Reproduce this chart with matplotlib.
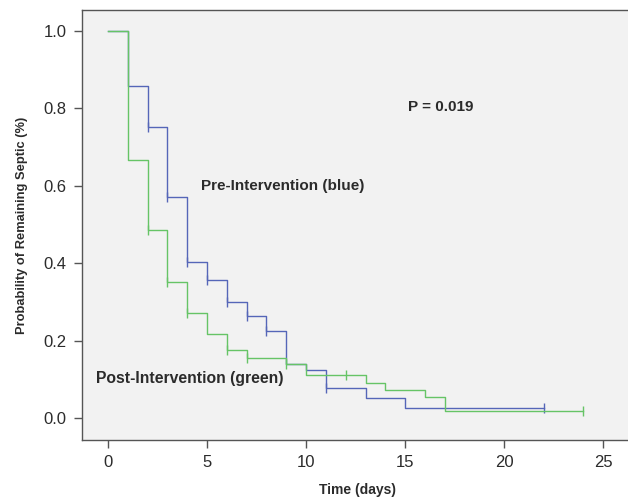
import numpy as np
import matplotlib
matplotlib.use("Agg")
from matplotlib import pyplot as plt

plt.rcParams['font.family'] = ['Liberation Sans', 'DejaVu Sans']

# Kaplan-Meier steps
pre_times = [0, 1, 2, 3, 4, 5, 6, 7, 8, 9, 10, 11, 13, 15, 22]
pre_surv = [1.0, 0.858, 0.752, 0.571, 0.403, 0.357, 0.300, 0.264, 0.225,
            0.140, 0.125, 0.077, 0.052, 0.026, 0.026]
pre_censor = [2, 3, 4, 5, 6, 7, 8, 11, 22]

post_times = [0, 1, 2, 3, 4, 5, 6, 7, 9, 10, 13, 14, 16, 17, 24]
post_surv = [1.0, 0.667, 0.485, 0.350, 0.270, 0.217, 0.176, 0.155, 0.140,
             0.110, 0.090, 0.072, 0.054, 0.018, 0.018]
post_censor = [2, 3, 4, 6, 7, 9, 12, 24]

x_ticks = [0, 5, 10, 15, 20, 25]
y_ticks = [0.0, 0.2, 0.4, 0.6, 0.8, 1.0]

BLUE = "#5566b8"
GREEN = "#66c466"
TXT = "#2b2b2b"
FRAME = "#555555"


def surv_at(times, surv, t):
    idx = np.searchsorted(times, t, side='right') - 1
    return np.asarray(surv)[idx]


fig = plt.figure(figsize=(6.28, 4.98), dpi=100)
W, H = 628.0, 498.0
ax = fig.add_axes([82 / W, 58 / H, 551 / W, 430 / H])
ax.set_facecolor("#f2f2f2")

for times, surv, cens, col in [(pre_times, pre_surv, pre_censor, BLUE),
                               (post_times, post_surv, post_censor, GREEN)]:
    ax.step(times, surv, where='post', color=col, linewidth=1.0)
    ax.plot(cens, surv_at(times, surv, cens), linestyle='none', marker='|',
            markersize=7, markeredgewidth=1.0, color=col)

ax.set_xlim(-1.31, 26.5)
ax.set_ylim(-0.057, 1.054)
ax.set_xticks(x_ticks)
ax.set_yticks(y_ticks)
ax.set_xticklabels([str(v) for v in x_ticks])
ax.set_yticklabels([f"{v:.1f}" for v in y_ticks])
ax.tick_params(direction='out', length=6, width=1, color=FRAME,
               labelsize=12, labelcolor=TXT, pad=5)
for s in ax.spines.values():
    s.set_color(FRAME)
    s.set_linewidth(1.0)

ax.set_xlabel("Time (days)", fontsize=10, fontweight='bold', color=TXT, labelpad=9)
ax.set_ylabel("Probability of Remaining Septic (%)", fontsize=9.3,
              fontweight='bold', color=TXT, labelpad=11)

ax.text(15.15, 0.803, "P = 0.019", fontsize=11, fontweight='bold',
        color=TXT, va='center', ha='left')
ax.text(4.7, 0.6, "Pre-Intervention (blue)", fontsize=11, fontweight='bold',
        color=TXT, va='center', ha='left')
ax.text(-0.6, 0.103, "Post-Intervention (green)", fontsize=11.3,
        fontweight='bold', color=TXT, va='center', ha='left')

plt.savefig("out.png", dpi=100)
